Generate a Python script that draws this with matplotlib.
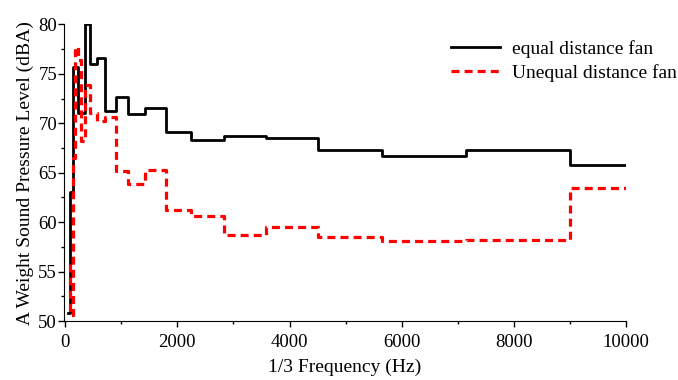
import matplotlib
matplotlib.use("Agg")
import matplotlib.pyplot as plt
from matplotlib.ticker import MultipleLocator

plt.rcParams['font.family'] = ['Liberation Serif', 'DejaVu Serif']

# 1/3 octave band centre frequencies (Hz)
freq_equal = [50, 63, 80, 100, 125, 160, 200, 250, 315, 400, 500, 630, 800,
              1000, 1250, 1600, 2000, 2500, 3150, 4000, 5000, 6300, 8000, 10000]
spl_equal = [50.8, 50.8, 50.8, 63.0, 63.0, 75.7, 75.7, 71.0, 71.0, 80.0, 76.0,
             76.6, 71.2, 72.7, 70.9, 71.5, 69.1, 68.3, 68.7, 68.5, 67.3, 66.7,
             67.3, 65.8]

freq_unequal = [80, 100, 125, 160, 200, 250, 315, 400, 500, 630, 800, 1000,
                1250, 1600, 2000, 2500, 3150, 4000, 5000, 6300, 8000, 10000]
spl_unequal = [55.8, 50.6, 50.6, 66.5, 77.7, 76.4, 68.2, 73.9, 71.0, 70.2, 70.6,
               65.2, 63.9, 65.3, 61.2, 60.6, 58.7, 59.5, 58.5, 58.1, 58.2, 63.5]

fig = plt.figure(figsize=(6.78, 3.80), dpi=100)
ax = fig.add_axes([0.0944, 0.155, 0.829, 0.781])

ax.step(freq_equal, spl_equal, where='mid', color='black', lw=2.0,
        label='equal distance fan')
ax.step(freq_unequal, spl_unequal, where='mid', color='#ff0000', lw=2.3,
        linestyle=(0, (2.5, 1.6)), label='Unequal distance fan')

ax.set_xlim(-20, 10000)
ax.set_ylim(50, 80)
ax.xaxis.set_major_locator(MultipleLocator(2000))
ax.xaxis.set_minor_locator(MultipleLocator(1000))
ax.yaxis.set_major_locator(MultipleLocator(5))
ax.yaxis.set_minor_locator(MultipleLocator(2.5))
ax.tick_params(which='major', direction='out', length=4, width=1, labelsize=13.5)
ax.tick_params(axis='x', which='major', pad=5)
ax.tick_params(axis='y', which='major', pad=1)
ax.tick_params(which='minor', direction='out', length=2.5, width=1)

for side in ['top', 'right']:
    ax.spines[side].set_visible(False)

ax.set_xlabel('1/3 Frequency (Hz)', fontsize=14, labelpad=6)
ax.set_ylabel('A Weight Sound Pressure Level (dBA)', fontsize=14, labelpad=3)

ax.legend(loc='upper right', bbox_to_anchor=(1.121, 1.007), frameon=False,
          fontsize=14, handlelength=2.5, handletextpad=0.6, labelspacing=0.35)

fig.savefig('out.png', dpi=100)
